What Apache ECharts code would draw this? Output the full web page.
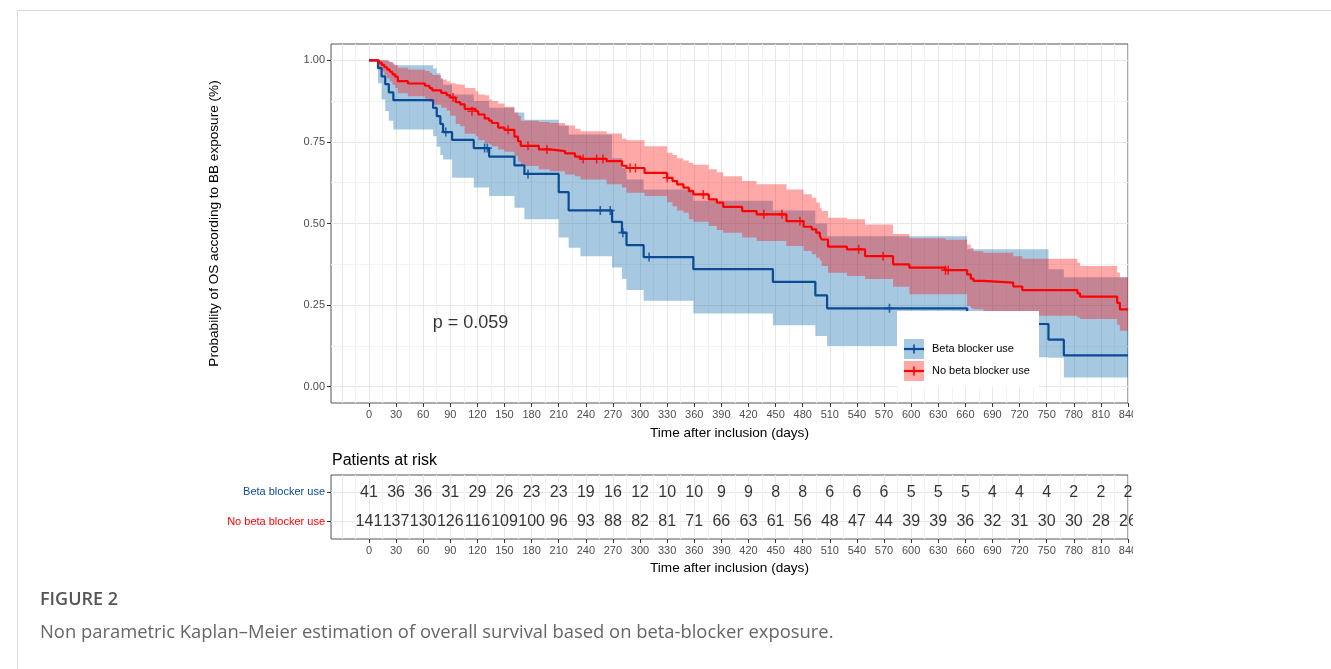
<!DOCTYPE html>
<html>
<head>
<meta charset="utf-8">
<script src="https://cdn.jsdelivr.net/npm/echarts@6/dist/echarts.min.js"></script>
<style>
html,body{margin:0;padding:0;background:#fff}
#main{width:1331px;height:669px}
</style>
</head>
<body>
<div id="main"></div>
<script>
// ---- data ----
const groups = ['Beta blocker use', 'No beta blocker use'];
const xTickLabels = [0,30,60,90,120,150,180,210,240,270,300,330,360,390,420,450,480,510,540,570,600,630,660,690,720,750,780,810,840];
const yTickLabels = [0, 0.25, 0.5, 0.75, 1];

// KM steps [day, survival]
const kmBeta = [[0,1],[10,0.976],[14,0.951],[18,0.927],[22,0.902],[27,0.878],[71,0.854],[75,0.829],[79,0.805],[82,0.780],
  [92,0.756],[116,0.731],[133,0.705],[161,0.678],[172,0.652],[210,0.596],[221,0.540],[269,0.505],[280,0.472],[285,0.434],
  [304,0.397],[359,0.360],[447,0.321],[494,0.280],[507,0.240],[662,0.192],[752,0.144],[769,0.096]];
const kmNoBeta = [[0,1],[11,0.993],[14,0.986],[17,0.979],[20,0.972],[23,0.965],[26,0.957],[29,0.950],[32,0.936],[43,0.929],
  [62,0.922],[67,0.915],[70,0.908],[80,0.900],[86,0.893],[90,0.886],[96,0.872],[101,0.865],[106,0.851],[118,0.844],
  [121,0.834],[128,0.822],[133,0.815],[136,0.808],[143,0.794],[150,0.787],[161,0.766],[165,0.752],[168,0.738],[188,0.727],
  [200,0.722],[217,0.715],[228,0.705],[234,0.698],[263,0.691],[280,0.677],[285,0.670],[305,0.655],[330,0.640],[336,0.630],
  [341,0.620],[348,0.610],[354,0.599],[359,0.589],[376,0.574],[385,0.564],[392,0.551],[413,0.538],[429,0.528],[462,0.507],
  [481,0.490],[490,0.482],[495,0.472],[499,0.461],[501,0.451],[508,0.429],[529,0.421],[549,0.400],[580,0.375],[598,0.365],
  [638,0.357],[662,0.344],[666,0.331],[669,0.324],[680,0.319],[713,0.307],[723,0.296],[784,0.286],[787,0.276],[828,0.257],[831,0.237]];

// censored observations [day, survival]
const censorBeta = [[85,0.780],[128,0.731],[131,0.731],[176,0.652],[256,0.540],[267,0.540],[281,0.472],[310,0.397],[576,0.240]];
const censorNoBeta = [[93,0.886],[114,0.844],[154,0.787],[176,0.738],[197,0.727],[237,0.698],[252,0.698],[259,0.698],
  [289,0.670],[295,0.670],[330,0.640],[370,0.589],[437,0.528],[457,0.528],[477,0.507],[542,0.421],[569,0.400],[638,0.357],[641,0.357]];

// confidence band steps [day, lower, upper]
const bandBeta = [[0,1,1],[10,0.930,1],[14,0.880,1],[18,0.845,1],[22,0.815,0.995],[27,0.788,0.985],[71,0.767,0.975],
  [75,0.735,0.960],[79,0.710,0.945],[82,0.696,0.925],[92,0.640,0.895],[116,0.610,0.875],[133,0.584,0.855],[161,0.548,0.840],
  [172,0.513,0.818],[210,0.457,0.800],[221,0.426,0.773],[234,0.400,0.773],[269,0.365,0.700],[280,0.331,0.670],[285,0.296,0.635],
  [304,0.263,0.604],[359,0.224,0.570],[447,0.188,0.540],[494,0.155,0.500],[507,0.125,0.461],[662,0.090,0.421],[752,0.089,0.360],[769,0.028,0.335]];
const bandNoBeta = [[0,1,1],[11,0.979,1],[14,0.966,1],[17,0.955,1],[20,0.945,0.998],[23,0.935,0.994],[26,0.925,0.990],
  [29,0.915,0.986],[32,0.899,0.977],[43,0.890,0.972],[62,0.882,0.967],[67,0.873,0.962],[70,0.864,0.955],[80,0.855,0.941],
  [86,0.846,0.936],[90,0.830,0.930],[96,0.805,0.927],[101,0.798,0.926],[106,0.775,0.915],[118,0.767,0.905],[121,0.755,0.895],
  [128,0.747,0.893],[133,0.742,0.880],[136,0.737,0.875],[143,0.727,0.868],[150,0.720,0.858],[161,0.706,0.840],[165,0.690,0.830],
  [168,0.676,0.815],[188,0.666,0.811],[200,0.660,0.808],[217,0.650,0.800],[228,0.645,0.790],[234,0.635,0.783],[263,0.620,0.776],
  [280,0.610,0.760],[285,0.594,0.755],[305,0.584,0.737],[330,0.565,0.717],[336,0.553,0.710],[341,0.540,0.700],[348,0.533,0.693],
  [354,0.513,0.686],[359,0.505,0.680],[376,0.492,0.666],[385,0.480,0.657],[392,0.472,0.645],[413,0.457,0.630],[429,0.446,0.620],
  [462,0.431,0.604],[481,0.416,0.590],[490,0.406,0.579],[495,0.395,0.564],[499,0.387,0.548],[501,0.370,0.538],[508,0.349,0.518],
  [529,0.339,0.513],[549,0.330,0.497],[580,0.306,0.468],[598,0.283,0.455],[638,0.283,0.450],[662,0.247,0.436],[666,0.240,0.425],
  [669,0.237,0.415],[680,0.232,0.410],[713,0.222,0.400],[723,0.217,0.392],[784,0.212,0.380],[787,0.207,0.370],[828,0.190,0.350],[831,0.171,0.335]];

// numbers at risk
const riskBeta = [41,36,36,31,29,26,23,23,19,16,12,10,10,9,9,8,8,6,6,6,5,5,5,4,4,4,2,2,2];
const riskNoBeta = [141,137,130,126,116,109,100,96,93,88,82,81,71,66,63,61,56,48,47,44,39,39,36,32,31,30,30,28,26];

const pValue = 'p = 0.059';

// ---- styling ----
const FONT = '"Liberation Sans", Arial, Helvetica, sans-serif';
const CAPTION_FONT = '"Open Sans", "Noto Sans", sans-serif';
const BLUE = '#0B4A94';
const BLUE_BAND = '#0060A8';
const RED = '#FF0000';
const X_MIN = -42, X_END = 840;
const GRID_MAJOR = '#e7e7e7', GRID_MINOR = '#f3f3f3';
const TITLE_SIZE = 13.6;

const gridDays = [];
for (let d = -30; d <= X_END; d += 15) gridDays.push(d);
const gridProb = [0, 0.125, 0.25, 0.375, 0.5, 0.625, 0.75, 0.875, 1];

function stepLine(rows) {
  return rows.concat([[X_END, rows[rows.length - 1][1]]]);
}

function bandSeries(rows, color, alpha) {
  return {
    type: 'custom',
    silent: true,
    z: 1,
    data: [[0, 0]],
    renderItem: function (params, api) {
      const top = [], bot = [];
      for (let i = 0; i < rows.length; i++) {
        const x0 = rows[i][0];
        const x1 = i + 1 < rows.length ? rows[i + 1][0] : X_END;
        top.push(api.coord([x0, rows[i][2]]), api.coord([x1, rows[i][2]]));
        bot.push(api.coord([x0, rows[i][1]]), api.coord([x1, rows[i][1]]));
      }
      return {
        type: 'polygon',
        shape: { points: top.concat(bot.reverse()) },
        style: { fill: color, opacity: alpha }
      };
    }
  };
}

function censorSeries(rows, color) {
  return {
    type: 'scatter',
    z: 4,
    data: rows,
    symbol: 'path://M5,0L5,10M0,5L10,5',
    symbolSize: 9,
    itemStyle: { color: 'transparent', borderColor: color, borderWidth: 1.6 },
    silent: true
  };
}

function riskSeries(values, row) {
  return {
    type: 'scatter',
    xAxisIndex: 2,
    yAxisIndex: 2,
    symbolSize: 1,
    itemStyle: { color: 'transparent' },
    data: xTickLabels.map((t, i) => [t, row, values[i]]),
    label: {
      show: true, position: 'inside',
      formatter: p => String(p.value[2]),
      fontFamily: FONT, fontSize: 16, color: '#000'
    },
    silent: true
  };
}

function gridXAxis(gridIndex) {
  return {
    gridIndex, type: 'value', min: X_MIN, max: X_END, position: 'bottom',
    axisLine: { show: false, onZero: false },
    axisTick: { show: false, customValues: gridDays },
    axisLabel: { show: false },
    splitLine: { show: true, lineStyle: { color: [GRID_MAJOR, GRID_MINOR], width: 1 } }
  };
}

function labelXAxis(gridIndex, gap) {
  return {
    gridIndex, type: 'value', min: X_MIN, max: X_END, position: 'bottom',
    axisLine: { show: false, onZero: false },
    axisTick: { show: true, customValues: xTickLabels, length: 4, lineStyle: { color: '#333' } },
    axisLabel: { customValues: xTickLabels, color: '#4d4d4d', fontSize: 11, fontFamily: FONT, margin: 6 },
    splitLine: { show: false },
    name: 'Time after inclusion (days)',
    nameLocation: 'middle',
    nameGap: gap,
    nameTextStyle: { fontSize: TITLE_SIZE, color: '#000', fontFamily: FONT }
  };
}

const option = {
  animation: false,
  backgroundColor: '#fff',
  grid: [
    { left: 331, top: 44, width: 797, height: 359, show: true, borderColor: '#555', borderWidth: 1, backgroundColor: 'transparent' },
    { left: 331, top: 475, width: 797, height: 64, show: true, borderColor: '#555', borderWidth: 1, backgroundColor: 'transparent' }
  ],
  xAxis: [gridXAxis(0), labelXAxis(0, 23), gridXAxis(1), labelXAxis(1, 22)],
  yAxis: [
    {
      gridIndex: 0, type: 'value', min: -0.05, max: 1.05,
      axisLine: { show: false, onZero: false },
      axisTick: { show: false, customValues: gridProb },
      axisLabel: { show: false },
      splitLine: { show: true, lineStyle: { color: [GRID_MAJOR, GRID_MINOR], width: 1 } }
    },
    {
      gridIndex: 0, type: 'value', min: -0.05, max: 1.05, position: 'left',
      axisLine: { show: false, onZero: false },
      axisTick: { show: true, customValues: yTickLabels, length: 4, lineStyle: { color: '#333' } },
      axisLabel: { customValues: yTickLabels, formatter: v => v.toFixed(2), color: '#4d4d4d', fontSize: 11, fontFamily: FONT, margin: 6 },
      splitLine: { show: false },
      name: 'Probability of OS according to BB exposure (%)',
      nameLocation: 'middle',
      nameGap: 110,
      nameTextStyle: { fontSize: TITLE_SIZE, color: '#000', fontFamily: FONT }
    },
    {
      gridIndex: 1, type: 'value', min: 0.4, max: 2.6,
      axisLine: { show: false, onZero: false },
      axisTick: { show: true, customValues: [1, 2], length: 4, lineStyle: { color: '#333' } },
      axisLabel: {
        customValues: [1, 2], margin: 6,
        formatter: v => v === 2 ? '{b|' + groups[0] + '}' : '{r|' + groups[1] + '}',
        rich: {
          b: { color: BLUE, fontSize: 11, fontFamily: FONT },
          r: { color: RED, fontSize: 11, fontFamily: FONT }
        }
      },
      splitLine: { show: true, lineStyle: { color: GRID_MAJOR, width: 1 } }
    }
  ],
  series: [
    bandSeries(bandBeta, BLUE_BAND, 0.35),
    bandSeries(bandNoBeta, RED, 0.34),
    { type: 'line', step: 'end', data: stepLine(kmBeta), showSymbol: false, z: 3, silent: true,
      lineStyle: { color: BLUE, width: 2.2 }, itemStyle: { color: BLUE } },
    { type: 'line', step: 'end', data: stepLine(kmNoBeta), showSymbol: false, z: 3, silent: true,
      lineStyle: { color: RED, width: 2.2 }, itemStyle: { color: RED } },
    censorSeries(censorBeta, BLUE),
    censorSeries(censorNoBeta, RED),
    {
      type: 'scatter', symbolSize: 1, itemStyle: { color: 'transparent' }, silent: true,
      data: [[70, 0.194]],
      label: { show: true, position: 'right', distance: 0, formatter: pValue, fontSize: 18, color: '#000', fontFamily: FONT }
    },
    riskSeries(riskBeta, 2),
    riskSeries(riskNoBeta, 1)
  ],
  graphic: [
    { type: 'rect', z: 0, silent: true, shape: { x: 17.5, y: 10.5, width: 1400, height: 800 },
      style: { fill: 'none', stroke: '#d9d9d9', lineWidth: 1 } },
    { type: 'rect', z: 100, silent: true, shape: { x: 1133, y: 20, width: 200, height: 560 }, style: { fill: '#fff' } },
    { type: 'text', left: 332, top: 453, z: 100, style: { text: 'Patients at risk', fontSize: 16, fontFamily: FONT, fill: '#000' } },
    // legend box drawn over the panel
    { type: 'rect', z: 100, silent: true, shape: { x: 897, y: 311, width: 142, height: 76 }, style: { fill: '#fff' } },
    { type: 'rect', z: 101, silent: true, shape: { x: 904, y: 339, width: 20, height: 20 }, style: { fill: BLUE_BAND, opacity: 0.35 } },
    { type: 'line', z: 102, silent: true, shape: { x1: 904, y1: 349, x2: 924, y2: 349 }, style: { stroke: BLUE, lineWidth: 2.2 } },
    { type: 'line', z: 102, silent: true, shape: { x1: 914, y1: 344.5, x2: 914, y2: 353.5 }, style: { stroke: BLUE, lineWidth: 1.6 } },
    { type: 'text', z: 102, silent: true, x: 932, y: 349, style: { text: groups[0], fontSize: 11, fontFamily: FONT, fill: '#000', verticalAlign: 'middle' } },
    { type: 'rect', z: 101, silent: true, shape: { x: 904, y: 361, width: 20, height: 20 }, style: { fill: RED, opacity: 0.34 } },
    { type: 'line', z: 102, silent: true, shape: { x1: 904, y1: 371, x2: 924, y2: 371 }, style: { stroke: RED, lineWidth: 2.2 } },
    { type: 'line', z: 102, silent: true, shape: { x1: 914, y1: 366.5, x2: 914, y2: 375.5 }, style: { stroke: RED, lineWidth: 1.6 } },
    { type: 'text', z: 102, silent: true, x: 932, y: 371, style: { text: groups[1], fontSize: 11, fontFamily: FONT, fill: '#000', verticalAlign: 'middle' } },
    // caption
    { type: 'text', z: 100, x: 40, y: 600, style: { text: 'FIGURE 2', fontSize: 18, fontWeight: 600, fontFamily: CAPTION_FONT, fill: '#555', verticalAlign: 'middle' } },
    { type: 'text', z: 100, x: 40, y: 633, style: { text: 'Non parametric Kaplan\u2013Meier estimation of overall survival based on beta-blocker exposure.', fontSize: 18.4, fontFamily: CAPTION_FONT, fill: '#666', verticalAlign: 'middle' } }
  ]
};

const chart = echarts.init(document.getElementById('main'));
chart.setOption(option);
</script>
</body>
</html>
